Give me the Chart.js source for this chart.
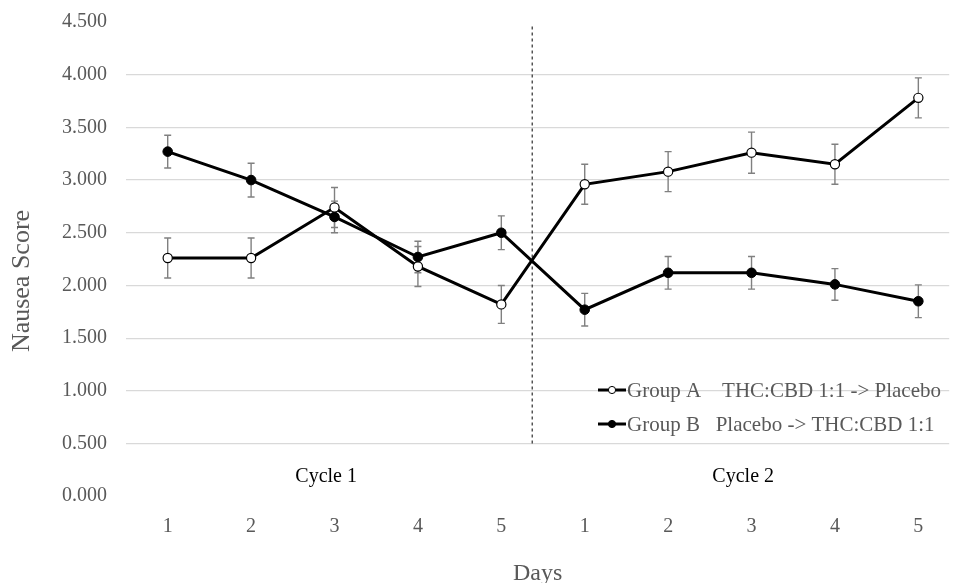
<!DOCTYPE html>
<html>
<head>
<meta charset="utf-8">
<script src="https://cdn.jsdelivr.net/npm/chart.js@4.4.1/dist/chart.umd.min.js"></script>
<style>
html, body { margin: 0; padding: 0; background: #ffffff; overflow: hidden; }
#wrap { position: relative; width: 955px; height: 583px; }
</style>
</head>
<body>
<div id="wrap"><canvas id="c"></canvas></div>
<script>
// ---------- data ----------
const dayLabels = ['1', '2', '3', '4', '5', '1', '2', '3', '4', '5'];
const groupA = [2.26, 2.26, 2.74, 2.18, 1.82, 2.96, 3.08, 3.26, 3.15, 3.78];
const groupAErr = [0.19, 0.19, 0.19, 0.19, 0.18, 0.19, 0.19, 0.195, 0.19, 0.19];
const groupB = [3.27, 3.00, 2.65, 2.27, 2.50, 1.77, 2.12, 2.12, 2.01, 1.85];
const groupBErr = [0.155, 0.16, 0.15, 0.15, 0.16, 0.155, 0.155, 0.155, 0.15, 0.155];
const seriesLabels = ['Group A    THC:CBD 1:1 -> Placebo', 'Group B   Placebo -> THC:CBD 1:1'];
const yTickValues = [0, 0.5, 1, 1.5, 2, 2.5, 3, 3.5, 4, 4.5];
const cycleLabels = ['Cycle 1', 'Cycle 2'];
const cyclePositions = [1.9, 6.9];
const cycleLabelValue = 0.185;
const dividerX = 4.37;
const dividerRange = [0.5, 4.47];
const yTitle = 'Nausea Score';
const xTitle = 'Days';

// ---------- styling ----------
const SERIF = "'Liberation Serif', 'Times New Roman', serif";
const GREY = '#595959';

const errorBars = {
  id: 'errorBars',
  beforeDatasetsDraw(chart) {
    const { ctx, scales: { x, y } } = chart;
    ctx.save();
    ctx.strokeStyle = '#808080';
    ctx.lineWidth = 1.4;
    [[groupA, groupAErr], [groupB, groupBErr]].forEach(([vals, errs]) => {
      vals.forEach((v, i) => {
        const px = x.getPixelForValue(i);
        const top = y.getPixelForValue(v + errs[i]);
        const bot = y.getPixelForValue(v - errs[i]);
        ctx.beginPath();
        ctx.moveTo(px, top); ctx.lineTo(px, bot);
        ctx.moveTo(px - 3.5, top); ctx.lineTo(px + 3.5, top);
        ctx.moveTo(px - 3.5, bot); ctx.lineTo(px + 3.5, bot);
        ctx.stroke();
      });
    });
    ctx.restore();
  }
};

const annotations = {
  id: 'annotations',
  afterDraw(chart) {
    const { ctx, scales: { x, y } } = chart;
    ctx.save();
    // y-axis title
    ctx.translate(22, 281);
    ctx.rotate(-Math.PI / 2);
    ctx.font = '26px ' + SERIF;
    ctx.fillStyle = GREY;
    ctx.textAlign = 'center';
    ctx.textBaseline = 'middle';
    ctx.fillText(yTitle, 0, 0);
    ctx.restore();

    // cycle labels
    ctx.save();
    ctx.font = '20px ' + SERIF;
    ctx.fillStyle = '#000000';
    ctx.textAlign = 'center';
    ctx.textBaseline = 'middle';
    cycleLabels.forEach((t, i) => {
      ctx.fillText(t, x.getPixelForValue(cyclePositions[i]), y.getPixelForValue(cycleLabelValue));
    });
    ctx.restore();

    // legend
    ctx.save();
    const lx = 598, rows = [390, 424];
    ctx.font = '21px ' + SERIF;
    ctx.textAlign = 'left';
    ctx.textBaseline = 'middle';
    chart.data.datasets.slice(0, 2).forEach((ds, i) => {
      const ry = rows[i];
      ctx.strokeStyle = '#000';
      ctx.lineWidth = 3;
      ctx.beginPath(); ctx.moveTo(lx, ry); ctx.lineTo(lx + 28, ry); ctx.stroke();
      ctx.beginPath(); ctx.arc(lx + 14, ry, 3.6, 0, Math.PI * 2);
      ctx.fillStyle = ds.pointBackgroundColor;
      ctx.fill();
      ctx.lineWidth = 1;
      ctx.stroke();
      ctx.fillStyle = GREY;
      ctx.fillText(ds.label, lx + 29, ry + 1);
    });
    ctx.restore();
  }
};

new Chart(document.getElementById('c'), {
  type: 'line',
  data: {
    datasets: [
      {
        label: seriesLabels[0],
        data: groupA.map((v, i) => ({ x: i, y: v })),
        borderColor: '#000000',
        borderWidth: 3,
        pointRadius: 4.6,
        pointBorderWidth: 1.2,
        pointBackgroundColor: '#ffffff',
        pointBorderColor: '#000000',
        tension: 0
      },
      {
        label: seriesLabels[1],
        data: groupB.map((v, i) => ({ x: i, y: v })),
        borderColor: '#000000',
        borderWidth: 3,
        pointRadius: 4.8,
        pointBorderWidth: 1,
        pointBackgroundColor: '#000000',
        pointBorderColor: '#000000',
        tension: 0
      },
      {
        label: 'divider',
        data: [{ x: dividerX, y: dividerRange[0] }, { x: dividerX, y: dividerRange[1] }],
        borderColor: '#000000',
        borderWidth: 1,
        borderDash: [3, 3],
        pointRadius: 0
      }
    ]
  },
  options: {
    responsive: true,
    maintainAspectRatio: false,
    animation: false,
    layout: { padding: { top: 22, right: 0, bottom: 0, left: 0 } },
    plugins: {
      legend: { display: false },
      tooltip: { enabled: false }
    },
    scales: {
      x: {
        type: 'linear',
        min: -0.5,
        max: 9.37,
        afterBuildTicks(scale) { scale.ticks = dayLabels.map((d, i) => ({ value: i })); },
        afterFit(scale) { scale.height = 86.8; },
        grid: { display: false, drawTicks: false },
        border: { display: false },
        ticks: {
          autoSkip: false,
          maxRotation: 0,
          padding: 19,
          color: GREY,
          font: { family: SERIF, size: 20 },
          callback: (v) => dayLabels[v]
        },
        title: {
          display: true,
          text: xTitle,
          color: GREY,
          font: { family: SERIF, size: 24, lineHeight: 0.75 },
          padding: 0
        }
      },
      y: {
        min: 0,
        max: 4.5,
        afterBuildTicks(scale) { scale.ticks = yTickValues.map(v => ({ value: v })); },
        afterFit(scale) { scale.width = 126; scale.paddingTop = 0; scale.paddingBottom = 0; },
        grid: {
          drawTicks: false,
          lineWidth: 1.2,
          color: (c) => (c.tick && (c.tick.value === 0 || c.tick.value === 4.5)) ? 'rgba(0,0,0,0)' : '#d9d9d9'
        },
        border: { display: false },
        ticks: {
          padding: 19,
          color: GREY,
          font: { family: SERIF, size: 20 },
          callback: (v) => Number(v).toFixed(3)
        }
      }
    }
  },
  plugins: [errorBars, annotations]
});
</script>
</body>
</html>
